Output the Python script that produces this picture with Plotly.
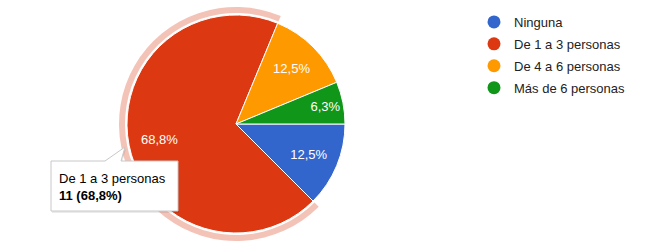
import math
import plotly.graph_objects as go

categories = ["Ninguna", "De 1 a 3 personas", "De 4 a 6 personas", "Más de 6 personas"]
counts = [2, 11, 2, 1]
colors = ["#3366CC", "#DC3912", "#FF9900", "#109618"]
highlight_index = 1
tooltip_lines = ["De 1 a 3 personas", "11 (68,8%)"]

W, H = 651, 245
FONT = "Arial, 'Liberation Sans', sans-serif"


def px(x):
    return x / W


def py(y):
    return 1 - y / H


cx, cy, r = 236, 124, 109
ring_in, ring_out = 111, 117
start_angle = 90  # degrees clockwise from 12 o'clock

fig = go.Figure()

# highlight ring around hovered slice
ring_colors = ["rgba(0,0,0,0)"] * len(categories)
ring_colors[highlight_index] = "rgba(220,57,18,0.3)"
fig.add_trace(go.Pie(
    labels=categories, values=counts, sort=False, direction="clockwise", rotation=start_angle,
    marker=dict(colors=ring_colors, line=dict(width=0)),
    hole=ring_in / ring_out, textinfo="none", hoverinfo="skip", showlegend=False,
    domain=dict(x=[px(cx - ring_out), px(cx + ring_out)], y=[py(cy + ring_out), py(cy - ring_out)]),
))

# the big slice's label is placed farther out (as in the original), others by plotly
templates = ["%{percent:.1%}"] * len(categories)
templates[highlight_index] = ""
fig.add_trace(go.Pie(
    labels=categories, values=counts, sort=False, direction="clockwise", rotation=start_angle,
    marker=dict(colors=colors, line=dict(color="white", width=1)),
    texttemplate=templates, textposition="inside", insidetextorientation="horizontal",
    textfont=dict(family=FONT, size=13, color="white"),
    showlegend=False,
    domain=dict(x=[px(cx - r), px(cx + r)], y=[py(cy + r), py(cy - r)]),
))

total = sum(counts)
cum = sum(counts[:highlight_index])
mid = start_angle + 360 * (cum + counts[highlight_index] / 2) / total  # clockwise from 12 o'clock
lab_r = 0.72 * r
lx = cx + lab_r * math.sin(math.radians(mid))
ly = cy - lab_r * math.cos(math.radians(mid))
pct = f"{100 * counts[highlight_index] / total:.1f}".replace(".", ",") + "%"
fig.add_annotation(x=px(lx), y=py(ly), xref="paper", yref="paper", text=pct, showarrow=False,
                   xanchor="center", yanchor="middle",
                   font=dict(family=FONT, size=13, color="white"))

# legend entries with circular markers
for i, (name, col) in enumerate(zip(categories, colors)):
    fig.add_trace(go.Scatter(
        x=[None], y=[None], mode="markers", name=name,
        marker=dict(color=col, size=13, symbol="circle"),
        legendgroup=f"g{i}", showlegend=True,
    ))

# tooltip callout shape (box + tail)
bx0, by0, bx1, by1 = 51, 161, 178, 211
tail = [(105, 161), (125, 147), (121, 161)]


def callout_path(dx=0, dy=0):
    pts = [(bx0, by0), (tail[0][0], by0), tail[1], (tail[2][0], by0), (bx1, by0), (bx1, by1), (bx0, by1)]
    return "M " + " L ".join(f"{px(x + dx)},{py(y + dy)}" for x, y in pts) + " Z"


fig.add_shape(type="path", path=callout_path(1, 2), xref="paper", yref="paper",
              fillcolor="rgba(0,0,0,0.08)", line=dict(width=0), layer="above")
fig.add_shape(type="path", path=callout_path(), xref="paper", yref="paper",
              fillcolor="white", line=dict(color="#c8c8c8", width=1), layer="above")

fig.add_annotation(
    x=px(bx0 + 6), y=py(by0 + 8), xref="paper", yref="paper", xanchor="left", yanchor="top",
    text=f"{tooltip_lines[0]}<br><b>{tooltip_lines[1]}</b>", showarrow=False, align="left",
    font=dict(family=FONT, size=13, color="#000000"),
)

fig.update_layout(
    width=W, height=H, margin=dict(l=0, r=0, t=0, b=0),
    paper_bgcolor="white", plot_bgcolor="white",
    separators=",.",
    xaxis=dict(visible=False), yaxis=dict(visible=False),
    legend=dict(x=px(474), y=py(7), xanchor="left", yanchor="top",
                font=dict(family=FONT, size=13, color="#222222"),
                tracegroupgap=2, itemsizing="trace", bgcolor="rgba(0,0,0,0)"),
)

fig.write_html("out.html")
